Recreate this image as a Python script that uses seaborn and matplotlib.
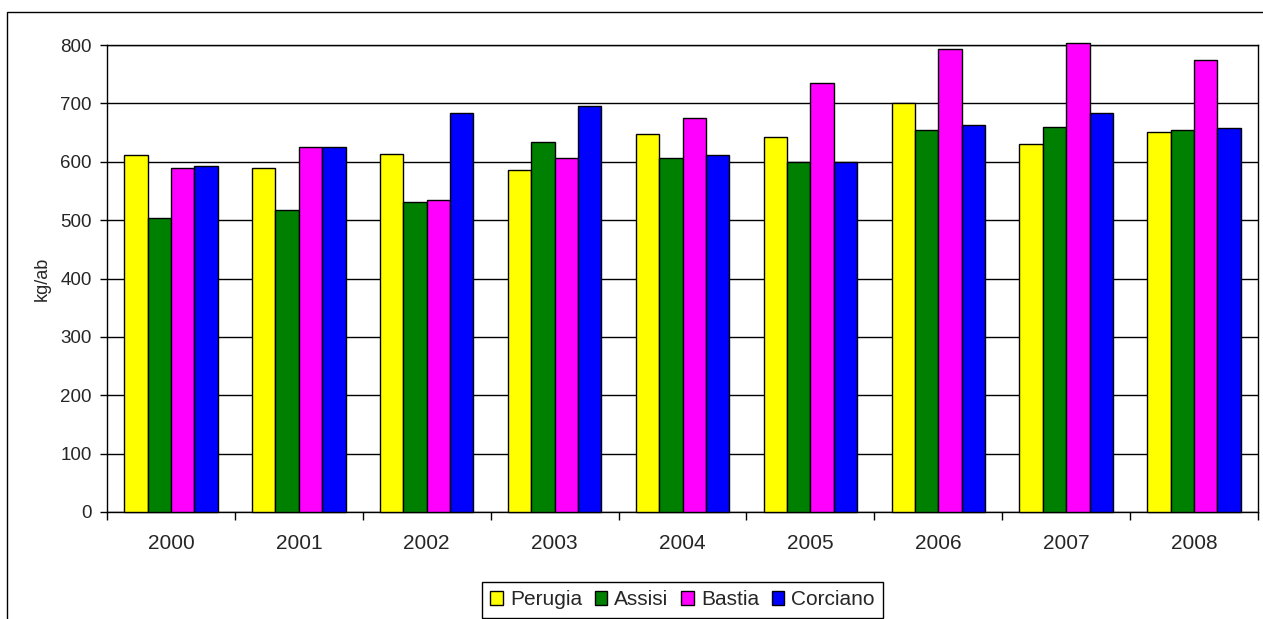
import numpy as np
import pandas as pd
import matplotlib
matplotlib.use("Agg")
import matplotlib.pyplot as plt
from matplotlib.patches import Rectangle
import seaborn as sns

years = ["2000", "2001", "2002", "2003", "2004", "2005", "2006", "2007", "2008"]
perugia = [611, 589, 614, 586, 648, 643, 700, 631, 651]
assisi = [503, 517, 531, 634, 606, 600, 655, 660, 655]
bastia = [589, 626, 534, 606, 675, 735, 794, 803, 775]
corciano = [592, 626, 683, 695, 611, 600, 663, 683, 657]
comuni = ["Perugia", "Assisi", "Bastia", "Corciano"]
colori = ["#FFFF00", "#008000", "#FF00FF", "#0000FF"]
y_ticks = [0, 100, 200, 300, 400, 500, 600, 700, 800]

series = [perugia, assisi, bastia, corciano]
df = pd.DataFrame({
    "anno": np.tile(years, len(comuni)),
    "comune": np.repeat(comuni, len(years)),
    "valore": np.concatenate(series),
})

sns.set_theme(style="white")
plt.rcParams["font.family"] = ["Liberation Sans", "DejaVu Sans"]

fig = plt.figure(figsize=(12.63, 6.19), dpi=100)
ax = fig.add_axes([107 / 1263, 1 - 512 / 619, (1258 - 107) / 1263, (512 - 45) / 619])

sns.barplot(data=df, x="anno", y="valore", hue="comune", order=years,
            hue_order=comuni, palette=colori, width=0.73, gap=0,
            edgecolor="black", linewidth=1.0, saturation=1, ax=ax, zorder=3)
# bars above the top gridline must not be clipped
for bar in ax.patches:
    bar.set_clip_on(False)

ax.set_xlim(-0.5, len(years) - 0.5)
ax.set_ylim(0, 800)
ax.set_yticks(y_ticks)
ax.yaxis.grid(True, color="black", linewidth=1.0, zorder=0)
ax.set_axisbelow(True)
for s in ax.spines.values():
    s.set_visible(True)
    s.set_color("black")
    s.set_linewidth(1.0)

ax.set_xlabel("")
ax.set_ylabel("kg/ab", fontsize=13, labelpad=7)
ax.tick_params(axis="y", which="major", length=5, width=1, color="black",
               direction="out", labelsize=13.5, pad=6, left=True)
ax.tick_params(axis="x", which="major", length=0, labelsize=15, pad=16)
ax.set_xticks(np.arange(-0.5, len(years)), minor=True)
ax.tick_params(axis="x", which="minor", length=6, width=1, color="black",
               direction="out", bottom=True)

ax.legend(loc="upper center", bbox_to_anchor=(0.5, -0.150), ncol=4,
          frameon=True, fancybox=False, edgecolor="black", framealpha=1,
          fontsize=15, handlelength=0.6, handleheight=0.6,
          handletextpad=0.35, columnspacing=0.6, borderpad=0.4,
          borderaxespad=0)
leg = ax.get_legend()
leg.get_frame().set_linewidth(1.0)
leg.set_title(None)

# outer chart-area frame
fig.patches.append(Rectangle((7 / 1263, -0.1), 1.2, 1 - 12 / 619 + 0.1,
                             transform=fig.transFigure, fill=False,
                             edgecolor="black", linewidth=1.0))

fig.savefig("out.png", dpi=100)
